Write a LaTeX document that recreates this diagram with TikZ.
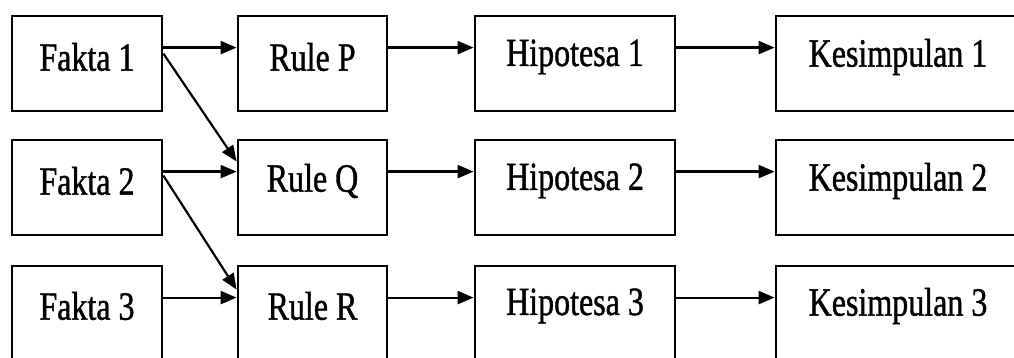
\documentclass[tikz,border=0pt]{standalone}
\usepackage{fontspec}
\usepackage{graphicx}
\setmainfont{Liberation Serif}
\newfontfamily\heavyserif{Liberation Serif}[FakeBold=1.2]
\usetikzlibrary{arrows.meta,calc}
\tikzset{
  box/.style={draw, line width=2.8pt, rectangle, inner sep=0pt, minimum height=95pt},
  fbox/.style={box, minimum width=150pt},
  rbox/.style={box, minimum width=149pt},
  hbox/.style={box, minimum width=200pt},
  kbox/.style={box, minimum width=260pt},
  txt/.style={inner sep=0pt, font=\heavyserif\fontsize{32}{36}\selectfont},
  arr/.style={line width=2.2pt, -{Triangle[length=16pt,width=13pt]}},
}
\newcommand{\lbl}[1]{\scalebox{1}[1.25]{#1}}
\begin{document}
\begin{tikzpicture}[x=1pt,y=-1pt]
\clip (0,0) rectangle (1014,358);
\fill[white] (0,0) rectangle (1014,358);
% boxes
\node[fbox] (f1) at (87,63.5) {};
\node[fbox] (f2) at (87,187.5) {};
\node[fbox] (f3) at (87,313.5) {};
\node[rbox] (r1) at (312.5,63.5) {};
\node[rbox] (r2) at (312.5,187.5) {};
\node[rbox] (r3) at (312.5,313.5) {};
\node[hbox] (h1) at (575,63.5) {};
\node[hbox] (h2) at (575,187.5) {};
\node[hbox] (h3) at (575,313.5) {};
\node[kbox] (k1) at (906,63.5) {};
\node[kbox] (k2) at (906,187.5) {};
\node[kbox] (k3) at (906,313.5) {};
% texts
\node[txt] (tf1) at (87,57) {\lbl{Fakta 1}};
\node[txt] (tf2) at (87,181) {\lbl{Fakta 2}};
\node[txt] (tf3) at (87,306) {\lbl{Fakta 3}};
\node[txt] (tr1) at (312.5,57) {\lbl{Rule P}};
\node[txt] (tr2) at (312.5,181) {\lbl{Rule Q}};
\node[txt] (tr3) at (312.5,306) {\lbl{Rule R}};
\node[txt] (th1) at (575,57) {\lbl{Hipotesa 1}};
\node[txt] (th2) at (575,181) {\lbl{Hipotesa 2}};
\node[txt] (th3) at (575,306) {\lbl{Hipotesa 3}};
\node[txt] (tk1) at (898,57) {\lbl{Kesimpulan 1}};
\node[txt] (tk2) at (898,181) {\lbl{Kesimpulan 2}};
\node[txt] (tk3) at (898,306) {\lbl{Kesimpulan 3}};
% horizontal arrows
\foreach \a/\b in {f1/r1,f2/r2,f3/r3,r1/h1,r2/h2,r3/h3,h1/k1,h2/k2,h3/k3}{
  \draw[arr] ($(\a.north east)+(0,33)$) -- ($(\b.north west)+(0,33)$);
}
% diagonal arrows
\draw[arr] ($(f1.north east)+(0,39)$) -- ($(r2.north west)+(0,23)$);
\draw[arr] ($(f2.north east)+(0,37)$) -- ($(r3.north west)+(0,25)$);
\end{tikzpicture}
\end{document}
